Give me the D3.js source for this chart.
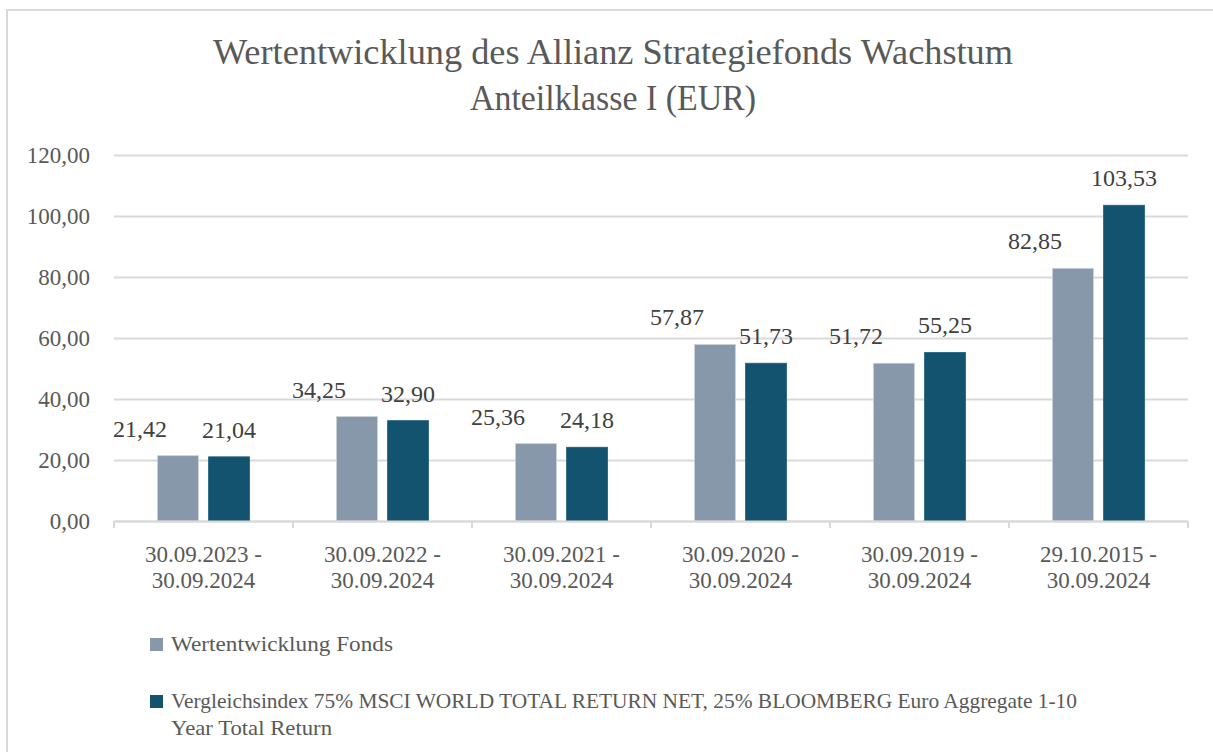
<!DOCTYPE html>
<html>
<head>
<meta charset="utf-8">
<script src="https://cdn.jsdelivr.net/npm/d3@7"></script>
<style>
  body { margin: 0; background: #fff; }
  svg { display: block; font-family: "Liberation Serif", "Times New Roman", serif; }
</style>
</head>
<body>
<div id="graph"></div>
<script>
const titleLines = ["Wertentwicklung des Allianz Strategiefonds Wachstum", "Anteilklasse I (EUR)"];
const periods = [
  "30.09.2023 - 30.09.2024",
  "30.09.2022 - 30.09.2024",
  "30.09.2021 - 30.09.2024",
  "30.09.2020 - 30.09.2024",
  "30.09.2019 - 30.09.2024",
  "29.10.2015 - 30.09.2024"
];
const seriesNames = ["Wertentwicklung Fonds", "Vergleichsindex 75% MSCI WORLD TOTAL RETURN NET, 25% BLOOMBERG Euro Aggregate 1-10 Year Total Return"];
const fondsValues = [21.42, 34.25, 25.36, 57.87, 51.72, 82.85];
const indexValues = [21.04, 32.9, 24.18, 51.73, 55.25, 103.53];
const yTicks = [0, 20, 40, 60, 80, 100, 120];

const colors = ["#8798aa", "#13536f"];
const serif = "Liberation Serif, Times New Roman, serif";
const w = 1213, h = 752;
const m = { left: 114, right: 1188, top: 155, bottom: 521 };

const de = d3.formatLocale({ decimal: ",", thousands: ".", grouping: [3], currency: ["", " €"] });
const fmt = de.format(".2f");

const svg = d3.select("#graph").append("svg").attr("width", w).attr("height", h);

// outer frame
svg.append("rect")
  .attr("x", 7).attr("y", 10).attr("width", 1220).attr("height", 760)
  .attr("fill", "#fff").attr("stroke", "#d9d9d9").attr("stroke-width", 2);

// title (the original is squeezed, so force the measured widths)
svg.append("g").selectAll("text")
  .data(titleLines)
  .join("text")
  .attr("x", 613)
  .attr("y", (d, i) => 64 + i * 46)
  .attr("text-anchor", "middle")
  .attr("fill", "#595959")
  .attr("font-size", 36)
  .attr("textLength", (d, i) => (i === 0 ? 800 : 286))
  .attr("lengthAdjust", "spacingAndGlyphs")
  .text((d) => d);

const x0 = d3.scaleBand().domain(periods).range([m.left, m.right]);
const x1 = d3.scaleBand()
  .domain([0, 1])
  .range([x0.bandwidth() * 0.243, x0.bandwidth() * 0.757])
  .paddingInner(0.2);
const y = d3.scaleLinear().domain([0, 120]).range([m.bottom, m.top]);

// gridlines + y labels
const yAxis = svg.append("g")
  .attr("transform", `translate(${m.left},0)`)
  .call(d3.axisLeft(y).tickValues(yTicks).tickSize(-(m.right - m.left)).tickPadding(24).tickFormat(fmt))
  .attr("font-family", serif)
  .attr("font-size", 23);
yAxis.select(".domain").remove();
yAxis.selectAll(".tick line").attr("stroke", "#d9d9d9").attr("stroke-width", 2);
yAxis.selectAll(".tick text")
  .attr("fill", "#595959")
  .attr("dy", "0.33em");

// bars
const rows = periods.map((p, i) => ({ p, vals: [fondsValues[i], indexValues[i]] }));
const groups = svg.append("g").selectAll("g")
  .data(rows)
  .join("g")
  .attr("transform", (d) => `translate(${x0(d.p)},0)`);

groups.selectAll("rect")
  .data((d) => d.vals.map((v, s) => ({ v, s })))
  .join("rect")
  .attr("x", (d) => x1(d.s))
  .attr("width", x1.bandwidth())
  .attr("y", (d) => y(d.v))
  .attr("height", (d) => y(0) - y(d.v))
  .attr("fill", (d) => colors[d.s])
  .attr("stroke", (d) => (d.s === 0 ? "#c9d2da" : "#1d5f7b"))
  .attr("stroke-width", 0.8);

// value labels (fund labels were dragged left in the original)
groups.selectAll("text")
  .data((d) => d.vals.map((v, s) => ({ v, s })))
  .join("text")
  .attr("x", (d) => x1(d.s) + x1.bandwidth() / 2 + (d.s === 0 ? -38 : 0))
  .attr("y", (d) => y(d.v) - 19)
  .attr("text-anchor", "middle")
  .attr("fill", "#404040")
  .attr("font-size", 24)
  .text((d) => fmt(d.v));

// x axis
const xAxis = svg.append("g")
  .attr("transform", `translate(0,${m.bottom})`)
  .call(d3.axisBottom(x0).tickSize(0).tickFormat(""))
  .attr("font-family", serif)
  .attr("font-size", 23);
xAxis.select(".domain").attr("stroke", "#d9d9d9").attr("stroke-width", 2);
xAxis.selectAll(".tick").remove();
xAxis.selectAll("line.sep")
  .data(periods.map((p) => x0(p)).concat([m.right]))
  .join("line")
  .attr("class", "sep")
  .attr("x1", (d) => d).attr("x2", (d) => d)
  .attr("y1", 0).attr("y2", 7)
  .attr("stroke", "#d9d9d9").attr("stroke-width", 2);

const xLabels = xAxis.selectAll("text.cat")
  .data(periods)
  .join("text")
  .attr("class", "cat")
  .attr("x", (d) => x0(d) + x0.bandwidth() / 2)
  .attr("text-anchor", "middle")
  .attr("fill", "#595959");
xLabels.selectAll("tspan")
  .data((d) => [d.slice(0, 12), d.slice(13)])
  .join("tspan")
  .attr("x", function () { return this.parentNode.getAttribute("x"); })
  .attr("y", (d, i) => 41 + i * 26)
  .text((d) => d);

// legend
const cut = seriesNames[1].indexOf("Year");
const legendLines = [[seriesNames[0]], [seriesNames[1].slice(0, cut - 1), seriesNames[1].slice(cut)]];
const legendWidths = [[222], [906, 161]];
const legend = svg.append("g");
const item = legend.selectAll("g")
  .data(legendLines)
  .join("g")
  .attr("transform", (d, i) => `translate(150,${i === 0 ? 638 : 695})`);
item.append("rect")
  .attr("width", 13).attr("height", 13)
  .attr("fill", (d, i) => colors[i]);
item.each(function (lines, k) {
  d3.select(this).selectAll("text")
    .data(lines)
    .join("text")
    .attr("x", 21)
    .attr("y", (d, i) => 13 + i * 27)
    .attr("fill", "#595959")
    .attr("font-size", 22)
    .attr("textLength", (d, i) => legendWidths[k][i])
    .attr("lengthAdjust", "spacingAndGlyphs")
    .text((d) => d);
});
</script>
</body>
</html>
